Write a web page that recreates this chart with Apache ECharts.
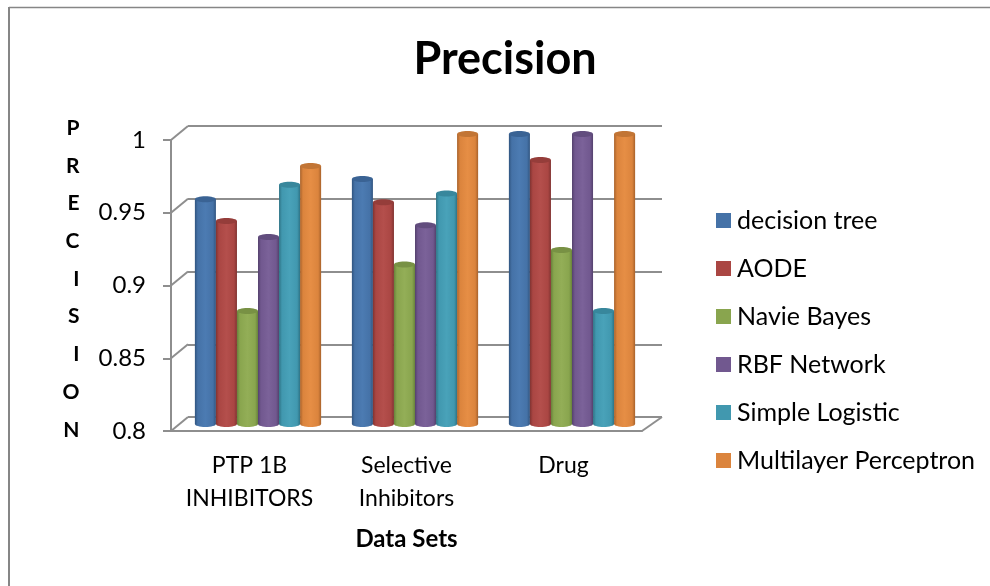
<!DOCTYPE html>
<html>
<head>
<meta charset="utf-8">
<title>Precision</title>
<script src="https://cdn.jsdelivr.net/npm/echarts@6/dist/echarts.min.js"></script>
<style>
  html, body { margin: 0; padding: 0; background: #fff; }
  #chart { width: 990px; height: 586px; }
</style>
</head>
<body>
<div id="chart"></div>
<script>
const categories = ['PTP 1B\nINHIBITORS', 'Selective\nInhibitors', 'Drug']
const yTicks = [0.8, 0.85, 0.9, 0.95, 1]
const seriesNames = ['decision tree', 'AODE', 'Navie Bayes', 'RBF Network', 'Simple Logistic', 'Multilayer Perceptron']
const decisionTree = [0.955, 0.969, 1]
const aode = [0.94, 0.953, 0.982]
const navieBayes = [0.878, 0.91, 0.92]
const rbfNetwork = [0.929, 0.937, 1]
const simpleLogistic = [0.965, 0.959, 0.878]
const multilayerPerceptron = [0.978, 1, 1]
const seriesValues = [decisionTree, aode, navieBayes, rbfNetwork, simpleLogistic, multilayerPerceptron]

// [edge, body, highlight, cap]
const palette = [
    ['#30547f', '#4572a7', '#4c7bb2', '#3a6394'],
    ['#803331', '#aa4643', '#b44f4c', '#953d3a'],
    ['#68823b', '#89a54e', '#93ae57', '#789144'],
    ['#54416d', '#71588f', '#7b6299', '#624d7e'],
    ['#2e7385', '#4198af', '#49a2b9', '#38879c'],
    ['#a8622b', '#db843d', '#e68e45', '#c27535']
]

const font = 'Lato'
const axisColor = '#8e8e8e'
const depthX = 17
const depthY = 14

const chart = echarts.init(document.getElementById('chart'), null, {renderer: 'canvas'})

const bodyGradient = (c) => new echarts.graphic.LinearGradient(0, 0, 1, 0, [
    {offset: 0, color: c[0]},
    {offset: 0.14, color: c[1]},
    {offset: 0.5, color: c[2]},
    {offset: 0.86, color: c[1]},
    {offset: 1, color: c[0]}
])

// cylinder for one bar, sits in the middle grid
const cylinder = (si) => (params, api) => {
    const cat = api.value(0)
    const top = api.coord([cat, api.value(1)])
    const base = api.coord([cat, 0.8])
    const w = api.size([1, 0])[0] * 0.134
    const cx = top[0] + (si - 2.5) * w
    const ry = 3
    const fill = bodyGradient(palette[si])
    return {
        type: 'group',
        children: [
            {
                type: 'ellipse',
                shape: {cx: cx, cy: base[1], rx: w / 2, ry: ry},
                style: {fill: fill}
            },
            {
                type: 'rect',
                shape: {x: cx - w / 2, y: top[1], width: w, height: base[1] - top[1]},
                style: {fill: fill}
            },
            {
                type: 'ellipse',
                shape: {cx: cx, cy: top[1], rx: w / 2, ry: ry},
                style: {fill: palette[si][3]}
            }
        ]
    }
}

// slanted floor and side lines going from the front axes to the back wall
const depthLines = (params, api) => {
    const y = api.coord([0, api.value(0)])[1]
    const x = params.coordSys.x
    const children = [{
        type: 'line',
        shape: {x1: x, y1: y, x2: x + depthX, y2: y - depthY},
        style: {stroke: axisColor, lineWidth: 2}
    }]
    if (api.value(0) === yTicks[0]) {
        const xr = x + params.coordSys.width
        children.push({
            type: 'line',
            shape: {x1: xr, y1: y, x2: xr + depthX + 3, y2: y - depthY},
            style: {stroke: axisColor, lineWidth: 2}
        })
    }
    return {type: 'group', children: children}
}

const hiddenX = (gridIndex) => ({
    type: 'category',
    gridIndex: gridIndex,
    data: categories,
    show: false
})
const hiddenY = (gridIndex, showSplit) => ({
    type: 'value',
    gridIndex: gridIndex,
    min: 0.8,
    max: 1,
    interval: 0.05,
    axisLine: {show: false},
    axisTick: {show: false},
    axisLabel: {show: false},
    splitLine: {show: showSplit, lineStyle: {color: axisColor, width: 2}}
})

const option = {
    animation: false,
    backgroundColor: '#fff',
    title: {
        text: 'Precision',
        left: 500,
        top: 32,
        textAlign: 'center',
        textStyle: {fontFamily: font, fontSize: 45, fontWeight: 'bold', color: '#000'}
    },
    legend: {
        data: seriesNames,
        orient: 'vertical',
        left: 711,
        top: 203,
        icon: 'rect',
        itemWidth: 15,
        itemHeight: 15,
        itemGap: 23,
        textStyle: {fontFamily: font, fontSize: 25, color: '#000', padding: [0, 0, 0, 1]}
    },
    grid: [
        {left: 171, top: 140, width: 471, height: 291},
        {left: 179.5, top: 134, width: 471, height: 290},
        {left: 188, top: 126, width: 474, height: 291}
    ],
    xAxis: [
        {
            type: 'category',
            gridIndex: 0,
            data: categories,
            name: 'Data Sets',
            nameLocation: 'middle',
            nameGap: 96,
            nameTextStyle: {fontFamily: font, fontSize: 24, fontWeight: 'bold', color: '#000'},
            axisLine: {lineStyle: {color: axisColor, width: 2}},
            axisTick: {length: 8, lineStyle: {color: axisColor, width: 2}},
            axisLabel: {interval: 0, hideOverlap: false, fontFamily: font, fontSize: 23, color: '#000', lineHeight: 33, margin: 18}
        },
        hiddenX(1),
        hiddenX(2)
    ],
    yAxis: [
        {
            type: 'value',
            gridIndex: 0,
            min: 0.8,
            max: 1,
            interval: 0.05,
            axisLine: {show: true, lineStyle: {color: axisColor, width: 2}},
            axisTick: {show: true, length: 8, lineStyle: {color: axisColor, width: 2}},
            axisLabel: {fontFamily: font, fontSize: 24, color: '#000', margin: 25},
            splitLine: {show: false}
        },
        // the vertical axis title hangs off the middle grid, it is centred a bit higher
        Object.assign(hiddenY(1, false), {
            name: 'P\nR\nE\nC\nI\nS\nI\nO\nN',
            nameLocation: 'middle',
            nameRotate: 0,
            nameGap: 100,
            nameTextStyle: {fontFamily: font, fontSize: 21, fontWeight: 'bold', color: '#000', lineHeight: 37.7}
        }),
        hiddenY(2, true)
    ],
    series: [
        {
            type: 'custom',
            name: 'depth',
            xAxisIndex: 0,
            yAxisIndex: 0,
            z: 1,
            silent: true,
            clip: false,
            renderItem: depthLines,
            encode: {y: 0},
            data: yTicks.map((t) => [t])
        }
    ].concat(seriesNames.map((name, si) => ({
        type: 'custom',
        name: name,
        xAxisIndex: 1,
        yAxisIndex: 1,
        z: 3,
        clip: false,
        itemStyle: {color: palette[si][1]},
        renderItem: cylinder(si),
        encode: {x: 0, y: 1},
        data: seriesValues[si].map((v, i) => [i, v])
    }))),
    graphic: [
        {type: 'line', shape: {x1: 9, y1: 7.5, x2: 990, y2: 7.5}, style: {stroke: '#868686', lineWidth: 1.5}},
        {type: 'line', shape: {x1: 9, y1: 7, x2: 9, y2: 586}, style: {stroke: '#868686', lineWidth: 2}}
    ]
}

chart.setOption(option)
</script>
</body>
</html>
